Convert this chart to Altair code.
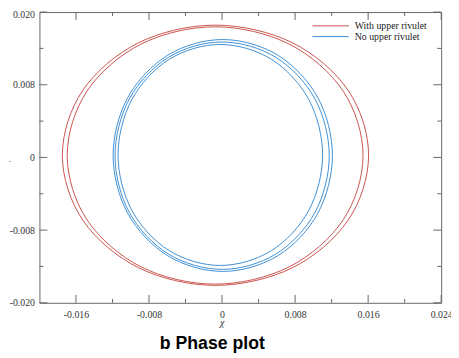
import altair as alt
import pandas as pd

# ---- data -----------------------------------------------------------------
series_names = ["With upper rivulet", "No upper rivulet"]
series_colors = ["#c9534e", "#3d8fd3"]

# phase-plot loops, 12 points per loop, read along each loop (counter-clockwise from the right)
r1_x = [0.01605, 0.01380, 0.00767, -0.00072, -0.00911, -0.01524, -0.01749, -0.01524, -0.00911, -0.00072, 0.00767, 0.01380]
r1_y = [0.00030, 0.00925, 0.01580, 0.01820, 0.01580, 0.00925, 0.00030, -0.00865, -0.01520, -0.01760, -0.01520, -0.00865]
r2_x = [0.01544, 0.01327, 0.00734, -0.00076, -0.00886, -0.01479, -0.01696, -0.01479, -0.00886, -0.00076, 0.00734, 0.01327]
r2_y = [0.00027, 0.00912, 0.01560, 0.01797, 0.01560, 0.00912, 0.00027, -0.00858, -0.01506, -0.01743, -0.01506, -0.00858]
b1_x = [0.01209, 0.01048, 0.00609, 0.00008, -0.00593, -0.01032, -0.01193, -0.01032, -0.00593, 0.00008, 0.00609, 0.01048]
b1_y = [0.00027, 0.00825, 0.01408, 0.01622, 0.01408, 0.00825, 0.00027, -0.00771, -0.01354, -0.01568, -0.01354, -0.00771]
b2_x = [0.01174, 0.01017, 0.00588, 0.00001, -0.00586, -0.01015, -0.01172, -0.01015, -0.00586, 0.00001, 0.00588, 0.01017]
b2_y = [0.00024, 0.00806, 0.01378, 0.01588, 0.01378, 0.00806, 0.00024, -0.00758, -0.01330, -0.01540, -0.01330, -0.00758]
b3_x = [0.01101, 0.00951, 0.00541, -0.00019, -0.00579, -0.00989, -0.01139, -0.00989, -0.00579, -0.00019, 0.00541, 0.00951]
b3_y = [0.00034, 0.00794, 0.01350, 0.01554, 0.01350, 0.00794, 0.00034, -0.00726, -0.01282, -0.01486, -0.01282, -0.00726]

x_ticks_major = [-0.016, -0.008, 0, 0.008, 0.016, 0.024]
x_ticks_minor = [-0.012, -0.004, 0.004, 0.012, 0.02]
y_ticks_major = [-0.02, -0.01, 0, 0.01, 0.02]
y_tick_labels = ["-0.020", "-0.008", "0", "0.008", "0.020"]
y_ticks_minor = [-0.015, -0.005, 0.005, 0.015]

caption = "b Phase plot"
x_title = "χ"

# ---- tables ------------------------------------------------------------------
loops = [
    (series_names[0], "r1", r1_x, r1_y),
    (series_names[0], "r2", r2_x, r2_y),
    (series_names[1], "b1", b1_x, b1_y),
    (series_names[1], "b2", b2_x, b2_y),
    (series_names[1], "b3", b3_x, b3_y),
]
rows = []
for s, lp, xs, ys in loops:
    for i, (xv, yv) in enumerate(zip(xs, ys)):
        rows.append({"series": s, "loop": lp, "order": i, "x": xv, "y": yv})
df = pd.DataFrame(rows)

W, H = 409, 296
FRAME = "#666666"
xscale = alt.Scale(domain=[-0.02, 0.024], nice=False, zero=False)
yscale = alt.Scale(domain=[-0.02, 0.02], nice=False, zero=False)
color = alt.Color("series:N", scale=alt.Scale(domain=series_names, range=series_colors), legend=None)

x_label_expr = "datum.value == 0 ? '0' : (datum.value < 0 ? '-' : '') + format(abs(datum.value), '.3f')"
y_label_expr = " : ".join(
    f"datum.value == {v} ? '{l}'" for v, l in zip(y_ticks_major, y_tick_labels)
) + " : ''"

common_axis = dict(ticks=False, domain=False, grid=False,
                   labelFont="Liberation Serif", labelFontSize=10, labelColor="#333333",
                   labelOverlap=False, labelFlush=False, title=None)
x_axis = alt.Axis(values=x_ticks_major, labelExpr=x_label_expr, labelPadding=7, **common_axis)
y_axis = alt.Axis(values=y_ticks_major, labelExpr=y_label_expr, labelPadding=5,
                  labelOffset={"condition": {"test": "datum.value == 0.02", "value": 3},
                               "value": 0},
                  **common_axis)

curves = alt.Chart(df).mark_line(interpolate="cardinal-closed", strokeWidth=1).encode(
    x=alt.X("x:Q", scale=xscale, axis=x_axis),
    y=alt.Y("y:Q", scale=yscale, axis=y_axis),
    color=color,
    detail="loop:N",
    order="order:Q",
)

def xticks(vals, length):
    d = pd.DataFrame({"x": vals})
    base = alt.Chart(d).mark_rule(color=FRAME, strokeWidth=1)
    enc_x = alt.X("x:Q", scale=xscale, axis=x_axis)
    bottom = base.encode(x=enc_x, y=alt.value(H), y2=alt.value(H - length))
    top = base.encode(x=enc_x, y=alt.value(0), y2=alt.value(length))
    return [bottom, top]

def yticks(vals, length):
    d = pd.DataFrame({"y": vals})
    base = alt.Chart(d).mark_rule(color=FRAME, strokeWidth=1)
    enc_y = alt.Y("y:Q", scale=yscale, axis=y_axis)
    left = base.encode(y=enc_y, x=alt.value(0), x2=alt.value(length))
    right = base.encode(y=enc_y, x=alt.value(W), x2=alt.value(W - length))
    return [left, right]

tick_layers = (xticks(x_ticks_major, 8) + xticks(x_ticks_minor, 4)
               + yticks(y_ticks_major, 8) + yticks(y_ticks_minor, 4))

# ---- legend (manual) ---------------------------------------------------------
leg_df = pd.DataFrame({"series": series_names})
legend_layers = []
for name, ypos in zip(series_names, [14, 25]):
    base = alt.Chart(leg_df).transform_filter(alt.datum.series == name)
    legend_layers.append(base.mark_rule(strokeWidth=1).encode(
        x=alt.value(278), x2=alt.value(315), y=alt.value(ypos), color=color))
    legend_layers.append(base.mark_text(align="left", baseline="middle", font="Liberation Serif",
                                        fontSize=10, color="#222222").encode(
        x=alt.value(321), y=alt.value(ypos), text="series:N"))

# ---- texts ---------------------------------------------------------------------
cap = alt.Chart(pd.DataFrame({"t": [caption]})).mark_text(
    font="Liberation Sans", fontWeight="bold", fontSize=18, color="#000000",
    align="center", baseline="middle").encode(x=alt.value(176), y=alt.value(338), text="t:N")
xt = alt.Chart(pd.DataFrame({"t": [x_title]})).mark_text(
    font="Liberation Serif", fontStyle="italic", fontSize=10, color="#333333",
    align="center", baseline="middle").encode(x=alt.value(186), y=alt.value(317), text="t:N")
yt = alt.Chart(pd.DataFrame({"t": ["-"]})).mark_text(
    font="Liberation Serif", fontSize=9, color="#999999",
    align="center", baseline="middle").encode(x=alt.value(-30), y=alt.value(152), text="t:N")

chart = alt.layer(curves, *tick_layers, *legend_layers, cap, xt, yt).properties(
    width=W, height=H,
    autosize=alt.AutoSizeParams(type="none"),
    padding={"left": 32, "top": 1, "right": 10, "bottom": 50},
).configure_view(stroke=FRAME, strokeWidth=1)

chart.save("out.html", embed_options={"renderer": "svg", "actions": False})
